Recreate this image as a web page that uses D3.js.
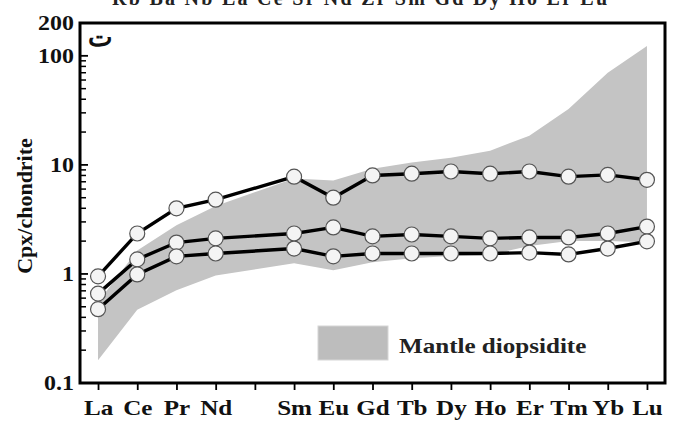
<!DOCTYPE html>
<html>
<head>
<meta charset="utf-8">
<script src="https://cdn.jsdelivr.net/npm/d3@7"></script>
<style>
  body { margin: 0; background: #fff; }
  text { font-family: "Liberation Serif", "Times New Roman", serif; font-weight: bold; }
</style>
</head>
<body>
<div id="chart"></div>
<script>
// REE order, Pm slot kept empty (index 5)
var elements = ["La", "Ce", "Pr", "Nd", "Pm", "Sm", "Eu", "Gd", "Tb", "Dy", "Ho", "Er", "Tm", "Yb", "Lu"];
var labelled = ["La", "Ce", "Pr", "Nd", "Sm", "Eu", "Gd", "Tb", "Dy", "Ho", "Er", "Tm", "Yb", "Lu"];

var sampleHigh = [0.95, 2.35, 4.0, 4.8, 7.8, 5.0, 8.0, 8.3, 8.7, 8.3, 8.7, 7.8, 8.1, 7.3];
var sampleMid  = [0.66, 1.36, 1.94, 2.12, 2.35, 2.67, 2.21, 2.30, 2.21, 2.12, 2.16, 2.16, 2.35, 2.72];
var sampleLow  = [0.475, 0.99, 1.45, 1.54, 1.71, 1.45, 1.54, 1.54, 1.54, 1.54, 1.57, 1.51, 1.71, 1.99];

var fieldTop    = [0.55, 1.64, 2.8, 4.2, 7.5, 7.2, 9.2, 10.5, 11.6, 13.5, 18.5, 32.6, 70, 123];
var fieldBottom = [0.162, 0.47, 0.71, 0.97, 1.25, 1.08, 1.28, 1.39, 1.46, 1.5, 1.8, 2.0, 2.0, 1.95];

var yTickLabels = [200, 100, 10, 1, 0.1];

var width = 680, height = 421;
var m = {top: 23, right: 15, bottom: 38, left: 80};
var stretch = 1.14; // the figure text is slightly widened

var svg = d3.select("#chart").append("svg")
  .attr("width", width)
  .attr("height", height);

var x = d3.scaleLinear()
  .domain([0.54, 15.46])
  .range([m.left, width - m.right]);

var y = d3.scaleLog()
  .domain([0.1, 200])
  .range([height - m.bottom, m.top]);

function xi(name) { return elements.indexOf(name) + 1; }

// shaded field
var field = labelled.map(function(el, i) {
  return {x: xi(el), lo: fieldBottom[i], hi: fieldTop[i]};
});

svg.append("path")
  .datum(field)
  .attr("fill", "#c4c4c4")
  .attr("d", d3.area()
    .x(function(d) { return x(d.x); })
    .y0(function(d) { return y(d.lo); })
    .y1(function(d) { return y(d.hi); }));

// legend
svg.append("rect")
  .attr("x", 318).attr("y", 326)
  .attr("width", 70).attr("height", 34)
  .attr("fill", "#bdbdbd")
  .attr("stroke", "#d6d6d6")
  .attr("stroke-width", 1);

svg.append("text")
  .attr("transform", "translate(399,353) scale(" + stretch + ",1)")
  .attr("font-size", 22)
  .attr("fill", "#222")
  .text("Mantle diopsidite");

// sample lines
var series = [sampleHigh, sampleMid, sampleLow];
var line = d3.line()
  .x(function(d) { return x(d.x); })
  .y(function(d) { return y(d.v); });

series.forEach(function(vals) {
  var pts = labelled.map(function(el, i) { return {x: xi(el), v: vals[i]}; });
  svg.append("path")
    .datum(pts)
    .attr("fill", "none")
    .attr("stroke", "#000")
    .attr("stroke-width", 3.4)
    .attr("d", line);
});

series.forEach(function(vals) {
  var pts = labelled.map(function(el, i) { return {x: xi(el), v: vals[i]}; });
  svg.append("g").selectAll("circle")
    .data(pts)
    .enter().append("circle")
    .attr("cx", function(d) { return x(d.x); })
    .attr("cy", function(d) { return y(d.v); })
    .attr("r", 7.5)
    .attr("fill", "#f4f4f4")
    .attr("stroke", "#555")
    .attr("stroke-width", 1.2);
});

// frame
svg.append("rect")
  .attr("x", m.left).attr("y", m.top)
  .attr("width", width - m.left - m.right)
  .attr("height", height - m.top - m.bottom)
  .attr("fill", "none")
  .attr("stroke", "#000")
  .attr("stroke-width", 3);

// y ticks (inside)
var minor = [];
[0.1, 1, 10].forEach(function(dec) {
  for (var k = 2; k <= 9; k++) minor.push(dec * k);
});
svg.append("g").selectAll("line.minor")
  .data(minor)
  .enter().append("line")
  .attr("x1", m.left).attr("x2", m.left + 6)
  .attr("y1", function(d) { return y(d); })
  .attr("y2", function(d) { return y(d); })
  .attr("stroke", "#000").attr("stroke-width", 1.5);

svg.append("g").selectAll("line.major")
  .data([1, 10, 100])
  .enter().append("line")
  .attr("x1", m.left).attr("x2", m.left + 8)
  .attr("y1", function(d) { return y(d); })
  .attr("y2", function(d) { return y(d); })
  .attr("stroke", "#000").attr("stroke-width", 1.8);

svg.append("g").selectAll("text")
  .data(yTickLabels)
  .enter().append("text")
  .attr("transform", function(d) {
    return "translate(" + (m.left - 6) + "," + y(d) + ") scale(" + stretch + ",1)";
  })
  .attr("dy", "0.35em")
  .attr("text-anchor", "end")
  .attr("font-size", 21)
  .attr("fill", "#111")
  .text(function(d) { return d; });

// x axis ticks (outside) and labels
var xAxis = d3.axisBottom(x)
  .tickValues(d3.range(1, elements.length + 1))
  .tickSize(7)
  .tickFormat(function(d) { return elements[d - 1] === "Pm" ? "" : elements[d - 1]; });

var gx = svg.append("g")
  .attr("transform", "translate(0," + (height - m.bottom) + ")")
  .call(xAxis);
gx.select(".domain").remove();
gx.selectAll(".tick line").attr("stroke", "#000").attr("stroke-width", 1.8);
gx.selectAll(".tick text")
  .attr("font-size", 22)
  .attr("font-family", "Liberation Serif, serif")
  .attr("font-weight", "bold")
  .attr("fill", "#111")
  .attr("y", 32)
  .attr("dy", 0)
  .attr("transform", "scale(" + stretch + ",1)");

// y axis title
svg.append("text")
  .attr("transform", "translate(32,206) rotate(-90) scale(1.1,1)")
  .attr("text-anchor", "middle")
  .attr("font-size", 20)
  .attr("fill", "#111")
  .text("Cpx/chondrite");

// panel letter
svg.append("text")
  .attr("x", 100).attr("y", 46)
  .attr("text-anchor", "middle")
  .attr("font-size", 26)
  .attr("font-family", "DejaVu Sans, sans-serif")
  .attr("font-weight", "bold")
  .attr("fill", "#111")
  .text("ت");

// cropped header line from the figure above
svg.append("text")
  .attr("x", 112).attr("y", 5)
  .attr("font-size", 20)
  .attr("fill", "#222")
  .attr("textLength", 495)
  .text("Rb Ba Nb La Ce Sr Nd Zr Sm Gd Dy Ho Er Lu");
</script>
</body>
</html>
